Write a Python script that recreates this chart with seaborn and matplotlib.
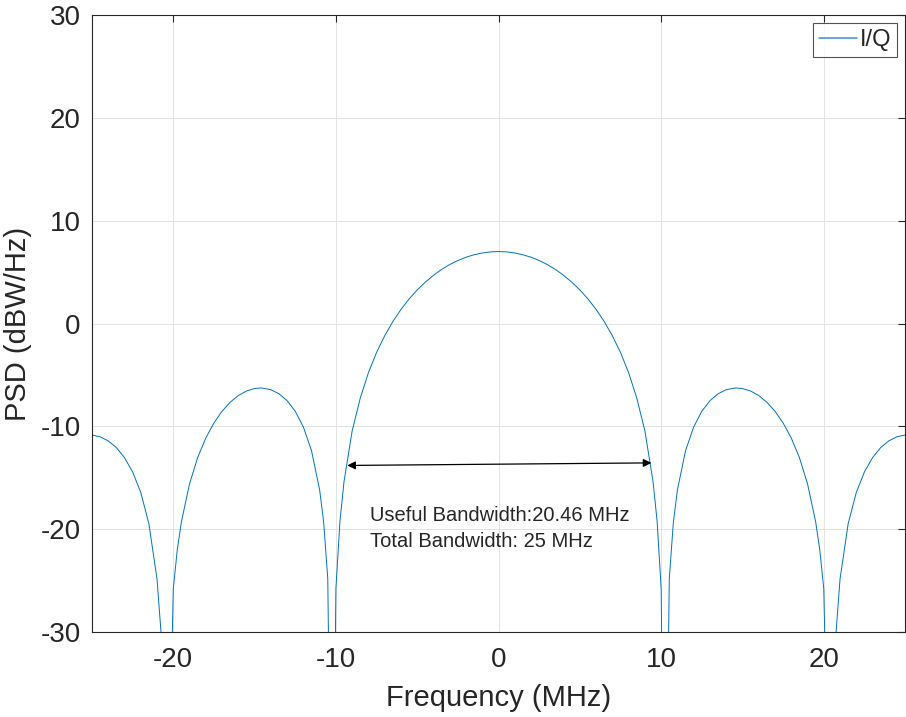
import matplotlib
matplotlib.use("Agg")
import matplotlib.pyplot as plt
import numpy as np
import pandas as pd
import seaborn as sns

# PSD (positive half, the chart is symmetric about 0 MHz)
freq_pos = [0, 0.5, 1, 1.5, 2, 2.5, 3, 3.5, 4, 4.5, 5, 5.5, 6, 6.5, 7, 7.5, 8, 8.5,
            9, 9.5, 9.75, 10, 10.23, 10.5, 10.75, 11, 11.5, 12, 12.5, 13, 13.5, 14,
            14.6, 15, 15.5, 16, 16.5, 17, 17.5, 18, 18.5, 19, 19.5, 19.75, 20, 20.46,
            20.75, 21, 21.5, 22, 22.5, 23, 23.5, 24, 24.5, 25]
psd_pos = [7.00, 6.97, 6.86, 6.69, 6.45, 6.13, 5.74, 5.26, 4.69, 4.03, 3.27, 2.39,
           1.37, 0.19, -1.19, -2.81, -4.78, -7.24, -10.44, -15.36, -19.19, -25.77,
           -60.0, -24.81, -19.35, -16.18, -12.36, -10.06, -8.53, -7.50, -6.83, -6.43,
           -6.26, -6.32, -6.56, -7.00, -7.65, -8.53, -9.67, -11.13, -13.03, -15.58,
           -19.28, -21.95, -25.79, -60.0, -30.10, -24.84, -19.46, -16.42, -14.43,
           -13.04, -12.06, -11.41, -11.01, -10.84]

x_ticks = [-20, -10, 0, 10, 20]
y_ticks = [-30, -20, -10, 0, 10, 20, 30]

# arrow endpoints (MHz, dB) and annotation text
arrow_start = (-9.3, -13.8)
arrow_end = (9.4, -13.55)
notes = ["Useful Bandwidth:20.46 MHz", "Total Bandwidth: 25 MHz"]
note_pos = [(-7.9, -18.7), (-7.9, -21.2)]

sns.set_style("whitegrid")
plt.rcParams["font.family"] = ["Liberation Sans", "DejaVu Sans"]
plt.rcParams["axes.unicode_minus"] = False

freq = np.concatenate([-np.array(freq_pos[::-1]), np.array(freq_pos[1:])])
psd = np.concatenate([np.array(psd_pos[::-1]), np.array(psd_pos[1:])])
df = pd.DataFrame({"freq": freq, "psd": psd, "label": "I/Q"})

fig = plt.figure(figsize=(9.06, 7.17), dpi=100)
ax = fig.add_axes([0.1015, 0.1185, 0.8975, 0.8605])

sns.lineplot(data=df, x="freq", y="psd", hue="label", palette=["#0072BD"],
             estimator=None, sort=False, linewidth=0.7, ax=ax)

ax.set_xlim(-25, 25)
ax.set_ylim(-30, 30)
ax.set_xticks(x_ticks)
ax.set_yticks(y_ticks)
ax.grid(True, color="#e3e3e3", linewidth=0.7)
for sp in ax.spines.values():
    sp.set_color("#262626")
    sp.set_linewidth(0.8)
    sp.set_visible(True)
ax.tick_params(direction="in", length=5, width=0.8, color="#262626",
               top=True, right=True, labelsize=20, labelcolor="#262626")
ax.tick_params(axis="x", pad=11)
ax.tick_params(axis="y", pad=8)
ax.set_xlabel("Frequency (MHz)", fontsize=21, color="#262626", labelpad=8)
ax.set_ylabel("PSD (dBW/Hz)", fontsize=21, color="#262626", labelpad=6)

ax.annotate("", xy=arrow_end, xytext=arrow_start,
            arrowprops=dict(arrowstyle="<|-|>", color="black", lw=0.9,
                            mutation_scale=12, shrinkA=0, shrinkB=0))
for txt, (tx, ty) in zip(notes, note_pos):
    ax.text(tx, ty, txt, fontsize=14.5, color="#262626", ha="left", va="center")

leg = ax.legend(loc="upper right", fontsize=17, frameon=True, fancybox=False,
                handlelength=1.6, borderaxespad=0.35, borderpad=0.25,
                handletextpad=0.1)
leg.get_frame().set_edgecolor("#262626")
leg.get_frame().set_linewidth(0.8)
leg.set_title(None)
for h in leg.get_lines():
    h.set_color("#3a8fd0")
    h.set_linewidth(1.1)

fig.savefig("out.png", dpi=100)
